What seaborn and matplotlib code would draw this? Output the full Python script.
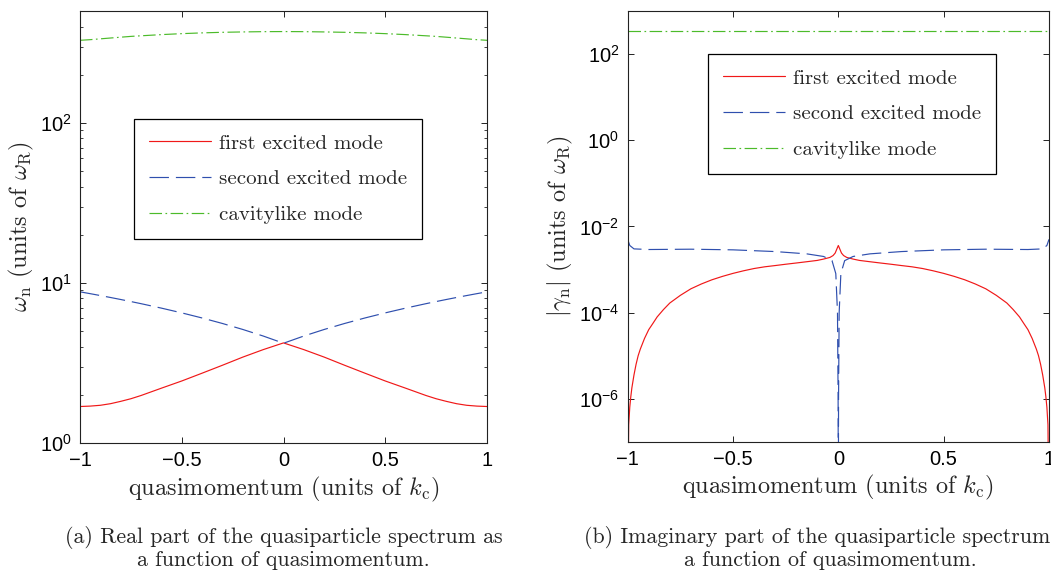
import numpy as np
import pandas as pd
import matplotlib
matplotlib.use("Agg")
import matplotlib.pyplot as plt
import seaborn as sns
from matplotlib.ticker import FixedLocator, NullLocator, FuncFormatter, LogLocator

# ---------------- data ----------------
# (a) real part
k_re = [-1.0, -0.95, -0.9, -0.85, -0.8, -0.75, -0.7, -0.6, -0.5, -0.4, -0.3, -0.2, -0.1, 0.0,
        0.1, 0.2, 0.3, 0.4, 0.5, 0.6, 0.7, 0.75, 0.8, 0.85, 0.9, 0.95, 1.0]
re_first = [1.69, 1.70, 1.72, 1.76, 1.82, 1.89, 1.98, 2.20, 2.44, 2.73, 3.06, 3.44, 3.83, 4.22,
            3.83, 3.44, 3.06, 2.73, 2.44, 2.20, 1.98, 1.89, 1.82, 1.76, 1.72, 1.70, 1.69]
re_second = [8.8, 8.57, 8.34, 8.11, 7.88, 7.65, 7.42, 6.96, 6.5, 6.04, 5.58, 5.12, 4.66, 4.2,
             4.66, 5.12, 5.58, 6.04, 6.5, 6.96, 7.42, 7.65, 7.88, 8.11, 8.34, 8.57, 8.8]
re_cavity = [328, 331, 335, 339, 343, 347, 350, 356, 361, 365, 368, 370, 371.5, 372,
             371.5, 370, 368, 365, 361, 356, 350, 347, 343, 339, 335, 331, 328]

# (b) imaginary part (absolute value)
k_im1 = [-1.0, -0.995, -0.99, -0.985, -0.98, -0.97, -0.96, -0.95, -0.94, -0.92, -0.9, -0.88,
         -0.86, -0.83, -0.8, -0.75, -0.7, -0.65, -0.6, -0.55, -0.5, -0.45, -0.4, -0.35, -0.3,
         -0.25, -0.2, -0.15, -0.1, -0.07, -0.04, -0.025, -0.015, -0.008, 0.0,
         0.008, 0.015, 0.025, 0.04, 0.07, 0.1, 0.15, 0.2, 0.25, 0.3, 0.35, 0.4, 0.45, 0.5,
         0.55, 0.6, 0.65, 0.7, 0.75, 0.8, 0.83, 0.86, 0.88, 0.9, 0.92, 0.94, 0.95, 0.96,
         0.97, 0.98, 0.985, 0.99, 0.995, 1.0]
im_first = [1e-9, 2.5e-7, 6.3e-7, 1.12e-6, 1.78e-6, 3.55e-6, 6.3e-6, 1.0e-5, 1.41e-5, 2.5e-5,
            4.0e-5, 5.6e-5, 7.9e-5, 1.17e-4, 1.66e-4, 2.5e-4, 3.55e-4, 4.6e-4, 5.75e-4, 6.9e-4,
            8.1e-4, 9.3e-4, 1.05e-3, 1.15e-3, 1.23e-3, 1.32e-3, 1.41e-3, 1.51e-3, 1.62e-3,
            1.74e-3, 1.9e-3, 2.1e-3, 2.4e-3, 2.9e-3, 3.6e-3,
            2.9e-3, 2.4e-3, 2.1e-3, 1.9e-3, 1.74e-3, 1.62e-3, 1.51e-3, 1.41e-3, 1.32e-3,
            1.23e-3, 1.15e-3, 1.05e-3, 9.3e-4, 8.1e-4, 6.9e-4, 5.75e-4, 4.6e-4, 3.55e-4,
            2.5e-4, 1.66e-4, 1.17e-4, 7.9e-5, 5.6e-5, 4.0e-5, 2.5e-5, 1.41e-5, 1.0e-5, 6.3e-6,
            3.55e-6, 1.78e-6, 1.12e-6, 6.3e-7, 2.5e-7, 1e-9]
k_im2 = [-1.0, -0.99, -0.97, -0.9, -0.7, -0.5, -0.3, -0.15, -0.07, -0.03, -0.012, -0.004,
         -0.001, 0.0, 0.001, 0.004, 0.012, 0.03, 0.07, 0.15, 0.3, 0.5, 0.7, 0.9, 0.97, 0.99, 1.0]
im_second = [5.0e-3, 3.6e-3, 3.0e-3, 2.9e-3, 2.95e-3, 2.85e-3, 2.6e-3, 2.3e-3, 2.0e-3, 1.6e-3,
             8e-4, 1e-4, 1e-6, 1e-9, 1e-6, 1e-4, 8e-4, 1.6e-3, 2.0e-3, 2.3e-3, 2.6e-3, 2.85e-3,
             2.95e-3, 2.9e-3, 3.0e-3, 3.6e-3, 5.0e-3]
k_im3 = [-1.0, -0.5, 0.0, 0.5, 1.0]
im_cavity = [345, 345, 345, 345, 345]

labels = ["first excited mode", "second excited mode", "cavitylike mode"]
xticks = [-1, -0.5, 0, 0.5, 1]

# ---------------- style ----------------
sns.set_theme(style="ticks")
plt.rcParams["font.family"] = ["Liberation Sans", "DejaVu Sans"]
plt.rcParams["mathtext.fontset"] = "custom"
plt.rcParams["mathtext.rm"] = "Liberation Sans"
plt.rcParams["mathtext.it"] = "Liberation Sans:italic"
plt.rcParams["lines.scale_dashes"] = False
plt.rcParams["axes.edgecolor"] = "#222222"
plt.rcParams["axes.linewidth"] = 0.8

RED = "#f01818"
BLUE = "#2f4fae"
GREEN = "#4cbb2a"
LW = 0.85
styles = [dict(color=RED, linestyle="-"),
          dict(color=BLUE, linestyle=(0, (14, 5))),
          dict(color=GREEN, linestyle=(0, (9, 2.5, 1.2, 2.5)))]

serif = dict(family="cmr10", math_fontfamily="cm")

fig = plt.figure(figsize=(10.51, 5.73), dpi=100)
ax1 = fig.add_axes([0.0761, 0.2269, 0.3873, 0.7539])
ax2 = fig.add_axes([0.5972, 0.2291, 0.4009, 0.7517])

def draw(ax, xs, ys):
    for x, y, st, lab in zip(xs, ys, styles, labels):
        df = pd.DataFrame({"k": x, "v": y})
        sns.lineplot(data=df, x="k", y="v", ax=ax, estimator=None, sort=False,
                     linewidth=LW, label=lab, **st)

draw(ax1, [k_re, k_re, k_re], [re_first, re_second, re_cavity])
draw(ax2, [k_im1, k_im2, k_im3], [im_first, im_second, im_cavity])

def sci(v, pos):
    e = int(round(np.log10(v)))
    return r"$10^{%d}$" % e

def plain(v, pos):
    return ("%g" % v).replace("-", "\u2212")

for ax in (ax1, ax2):
    ax.set_yscale("log")
    ax.set_xlim(-1, 1)
    ax.xaxis.set_major_locator(FixedLocator(xticks))
    ax.xaxis.set_minor_locator(NullLocator())
    ax.xaxis.set_major_formatter(FuncFormatter(plain))
    ax.tick_params(which="both", direction="in", top=True, right=True,
                   labelsize=14.5, colors="#222222", labelcolor="black")
    ax.tick_params(which="major", length=4, width=0.7, pad=6)
    ax.tick_params(which="minor", length=2.2, width=0.6)
    ax.yaxis.set_major_formatter(FuncFormatter(sci))
    ax.set_xlabel(r"quasimomentum (units of $k_\mathrm{c}$)", fontsize=17.5, labelpad=3, **serif)
    for s in ax.spines.values():
        s.set_visible(True)

ax1.set_ylim(1, 500)
ax1.yaxis.set_major_locator(FixedLocator([1, 10, 100]))
ax1.yaxis.set_minor_locator(LogLocator(base=10, subs=np.arange(2, 10)))
ax1.set_ylabel(r"$\omega_\mathrm{n}$ (units of $\omega_\mathrm{R}$)", fontsize=17.5, labelpad=3, **serif)

ax2.set_ylim(1e-7, 1e3)
ax2.yaxis.set_major_locator(FixedLocator([1e-6, 1e-4, 1e-2, 1, 1e2]))
ax2.yaxis.set_minor_locator(NullLocator())
ax2.set_ylabel(r"$|\gamma_\mathrm{n}|$ (units of $\omega_\mathrm{R}$)", fontsize=17.5, labelpad=3, **serif)

for ax, anchor in ((ax1, (0.1327, 0.75)), (ax2, (0.1906, 0.9002))):
    leg = ax.legend(loc="upper left", bbox_to_anchor=anchor, prop=dict(family="cmr10", size=15),
                    frameon=True, fancybox=False, edgecolor="black", handlelength=3.0,
                    labelspacing=0.82, borderpad=0.72, handletextpad=0.35, borderaxespad=0)
    leg.get_frame().set_linewidth(0.9)
    leg.get_frame().set_alpha(1)

cap_kw = dict(ha="center", va="top", fontsize=15.8, linespacing=1.12, **serif)
fig.text(0.2698, 1 - 526 / 573,
         "(a) Real part of the quasiparticle spectrum as\na function of quasimomentum.", **cap_kw)
fig.text(0.790, 1 - 526 / 573,
         "(b) Imaginary part of the quasiparticle spectrum as\na function of quasimomentum.", **cap_kw)

fig.savefig("out.png", dpi=100)
